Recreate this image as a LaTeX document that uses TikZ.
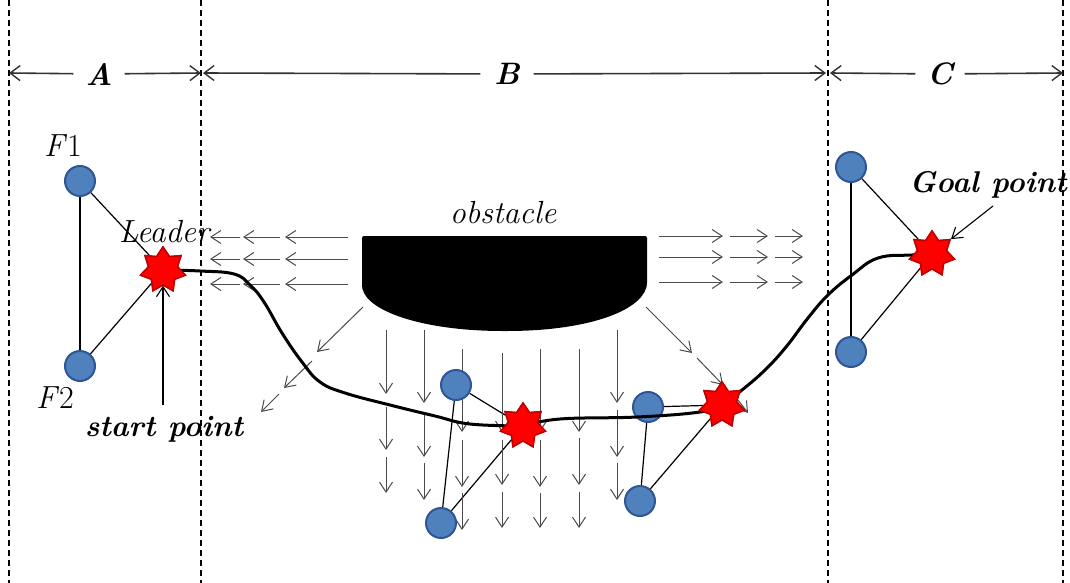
\documentclass[tikz,border=0pt]{standalone}
\usetikzlibrary{shapes.geometric,arrows.meta}
\definecolor{fblue}{HTML}{4F81BD}
\definecolor{fblueb}{HTML}{2F5597}
\definecolor{sred}{HTML}{FF0000}
\definecolor{sredb}{HTML}{C00000}
\definecolor{fieldgray}{HTML}{4A4A4A}
\pgfdeclarelayer{bg}
\pgfsetlayers{bg,main}
\tikzset{
 follower/.style={circle,fill=fblue,draw=fblueb,line width=2pt,minimum size=30pt,inner sep=0pt},
 leader/.style={star,star points=7,star point ratio=1.55,fill=sred,draw=sredb,line width=1.5pt,minimum size=46pt,inner sep=0pt},
 link/.style={line width=1.2pt,black},
 track/.style={line width=3pt,black,line join=round,line cap=round},
 bound/.style={line width=1.4pt,dash pattern=on 6pt off 4pt},
 dimline/.style={line width=1.6pt,draw=black!80,-{Straight Barb[length=10pt,width=15pt,line width=1.4pt]}},
 field/.style={line width=1pt,draw=fieldgray,-{Straight Barb[length=10pt,width=13pt,line width=1pt]}},
 pointer/.style={line width=1.1pt,black,-{Straight Barb[length=10pt,width=13pt,line width=1.1pt]}},
 lbl/.style={font=\fontsize{32}{36}\selectfont\itshape,inner sep=0pt},
 blbl/.style={font=\fontsize{30}{34}\selectfont\bfseries\itshape,inner sep=0pt},
 dimlbl/.style={font=\fontsize{31}{34}\selectfont\bfseries\itshape,inner sep=0pt,minimum height=20pt},
}
\begin{document}
\begin{tikzpicture}[x=1pt,y=-1pt]
\useasboundingbox (0,0) rectangle (1070,583);
% boundaries
\draw[bound] (9,0) -- (9,583);
\draw[bound] (201,0) -- (201,583);
\draw[bound] (828,0) -- (828,583);
\draw[bound] (1063,0) -- (1063,583);
% dimension labels
\node[dimlbl,minimum width=51pt] (lA) at (99,74) {A};
\node[dimlbl,minimum width=53pt] (lB) at (507,74) {B};
\node[dimlbl,minimum width=49pt] (lC) at (940,74) {C};
\coordinate (xA0) at (9,73);
\coordinate (xA1) at (201,73);
\coordinate (xB0) at (203,73);
\coordinate (xB1) at (826,73);
\coordinate (xC0) at (830,73);
\coordinate (xC1) at (1063,73);
\draw[dimline] (lA) -- (xA0);
\draw[dimline] (lA) -- (xA1);
\draw[dimline] (lB) -- (xB0);
\draw[dimline] (lB) -- (xB1);
\draw[dimline] (lC) -- (xC0);
\draw[dimline] (lC) -- (xC1);
% obstacle
\fill[black,rounded corners=2pt] (362,236) -- (647,236) -- (647,285)
  .. controls (640,312) and (585,331) .. (505,331)
  .. controls (425,331) and (368,312) .. (362,287) -- cycle;
\node[lbl,anchor=base] (obs) at (503,223) {obstacle};
% field arrows left/right
\foreach \y in {237,259,284}{
  \draw[field] (348,\y) -- (285,\y);
  \draw[field] (280,\y) -- (243,\y);
  \draw[field] (240,\y) -- (210,\y);
}
\foreach \y in {236,257,282}{
  \draw[field] (659,\y) -- (723,\y);
  \draw[field] (730,\y) -- (768,\y);
  \draw[field] (775,\y) -- (803,\y);
}
% field arrows downward
\foreach \x/\a/\b/\c/\d/\e/\f in {386/330/394/407/450/457/493, 424/330/403/412/457/463/500,
  462/349/432/440/487/493/530, 502/353/432/440/485/492/528, 540/349/432/440/487/493/528,
  579/349/432/438/485/492/528, 617/330/403/410/457/463/500}{
  \draw[field] (\x,\a) -- (\x,\b);
  \draw[field] (\x,\c) -- (\x,\d);
  \draw[field] (\x,\e) -- (\x,\f);
}
% diagonal field arrows
\draw[field] (363,307) -- (317,352);
\draw[field] (312,361) -- (284,388);
\draw[field] (279,394) -- (261,412);
\draw[field] (646,307) -- (692,353);
\draw[field] (697,358) -- (723,385);
\draw[field] (738,400) -- (748,413);
% formations
\node[follower] (F1) at (80,181) {};
\node[follower] (F2) at (80,366) {};
\node[leader] (L1) at (163,270) {};
\node[follower] (M1a) at (456,385) {};
\node[follower] (M1b) at (441,523) {};
\node[leader] (L2) at (523,426) {};
\node[follower] (M2a) at (648,407) {};
\node[follower] (M2b) at (640,501) {};
\node[leader] (L3) at (722,405) {};
\node[follower] (G1) at (851,167) {};
\node[follower] (G2) at (851,352) {};
\node[leader] (L4) at (932,254) {};
\begin{pgfonlayer}{bg}
\draw[link] (F1) -- (F2);
\draw[link] (F1) -- (L1);
\draw[link] (F2) -- (L1);
\draw[link] (M1a) -- (M1b);
\draw[link] (M1a) -- (L2);
\draw[link] (M1b) -- (L2);
\draw[link] (M2a) -- (M2b);
\draw[link] (M2a) -- (L3);
\draw[link] (M2b) -- (L3);
\draw[link] (G1) -- (G2);
\draw[link] (G1) -- (L4);
\draw[link] (G2) -- (L4);
\end{pgfonlayer}
% trajectory
\draw[track] plot[smooth,tension=0.7] coordinates {(L1.center) (200,271) (234,274) (250,285) (264,302) (282,333) (302,362) (320,382) (345,393) (390,405) (435,416) (470,424) (L2.center)};
\draw[track] plot[smooth,tension=0.7] coordinates {(L2.center) (560,419) (637,417) (700,412) (L3.center)};
\draw[track] plot[smooth,tension=0.7] coordinates {(L3.center) (742,390) (765,370) (786,347) (808,318) (828,295) (852,275) (878,258) (912,255) (L4.center)};
% redraw leaders on top of trajectory
\node[leader] at (L1.center) {};
\node[leader] at (L2.center) {};
\node[leader] at (L3.center) {};
\node[leader] at (L4.center) {};
% labels
\node[lbl,anchor=base] (tF1) at (63,156) {F\textup{1}};
\node[lbl,anchor=base] (tF2) at (55,408) {F\textup{2}};
\node[lbl,anchor=base] (tL) at (164,242) {Leader};
\node[blbl,anchor=base] (tS) at (164,436) {start point};
\node[blbl,anchor=base] (tG) at (988,192) {Goal point};
\coordinate (sa) at (163,405);
\coordinate (ga) at (993,206);
\draw[pointer] (sa) -- (L1);
\draw[pointer] (ga) -- (L4);
\end{tikzpicture}
\end{document}
